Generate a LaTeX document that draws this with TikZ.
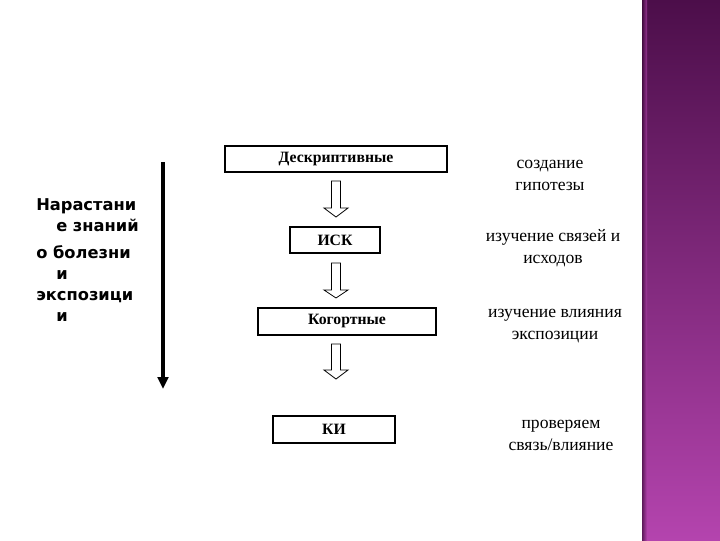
\documentclass[tikz,border=0pt]{standalone}
\usepackage{fontspec}
\setmainfont{Liberation Serif}
\newfontfamily\lefttext{DejaVu Sans}
\usetikzlibrary{arrows.meta,shapes.arrows}
\definecolor{bandtop}{HTML}{4C0E4A}
\definecolor{bandbot}{HTML}{B444AE}
\definecolor{bandedge}{HTML}{3A0A38}
\tikzset{
  x=0.75pt,y=-0.75pt,
  typebox/.style={draw,line width=0.8pt,inner sep=0pt,font=\bfseries\fontsize{11.8}{13}\selectfont},
  hollowarrow/.style={draw,line width=0.6pt,fill=white},
  note/.style={align=center,font=\fontsize{13.2}{16.5}\selectfont,inner sep=0pt},
  sidetext/.style={align=left,anchor=north west,inner sep=0pt,font=\lefttext\bfseries\fontsize{12.2}{15.8}\selectfont}
}
\begin{document}
\begin{tikzpicture}
\useasboundingbox (0,0) rectangle (720,540);
\fill[white] (0,0) rectangle (720,540);
% purple band
\shade[top color=bandtop,bottom color=bandbot] (642,0) rectangle (720,540);
\shade[left color=bandedge,right color=bandedge!0!bandbot,opacity=0.7] (642,0) rectangle (647,540);

% boxes
\node[typebox,minimum width=222*0.75pt,minimum height=26*0.75pt] (d) at (336,159) {Дескриптивные};
\node[typebox,minimum width=90*0.75pt,minimum height=26*0.75pt] (isk) at (335,240) {ИСК};
\node[typebox,minimum width=178*0.75pt,minimum height=27*0.75pt] (kog) at (347,321.5) {Когортные};
\node[typebox,minimum width=122*0.75pt,minimum height=27*0.75pt] (ki) at (334,429.5) {КИ};

% hollow arrows
\coordinate (a1) at (336,181);
\coordinate (a2) at (336,263);
\coordinate (a3) at (336,344);
\foreach \c/\h/\t in {a1/27/36, a2/27/35, a3/26/35}{
  \draw[hollowarrow] ([xshift=-4.5*0.75pt]\c) -- ++(0,\h) -- ++(-7.5,0) -- ([yshift=-\t*0.75pt]\c) -- ++(12,-\t+\h) -- ++(-7.5,0) -- ++(0,-\h) -- cycle;
}

% thick arrow
\coordinate (ts) at (163,162);
\coordinate (te) at (163,389);
\draw[line width=3.2pt,-{Triangle[length=9pt,width=8pt]}] (ts) -- (te);

% left text
\node[sidetext] (lt) at (36,198) {Нарастани\\\hspace*{15pt}е знаний};
\node[sidetext] (lt2) at (36,245) {о болезни\\\hspace*{15pt}и\\экспозици\\\hspace*{15pt}и};

% notes
\node[note] (n1) at (550,175) {создание\\гипотезы};
\node[note] (n2) at (553,248) {изучение связей и\\исходов};
\node[note] (n3) at (555,326) {изучение влияния\\экспозиции};
\node[note] (n4) at (561,435) {проверяем\\связь/влияние};
\end{tikzpicture}
\end{document}
